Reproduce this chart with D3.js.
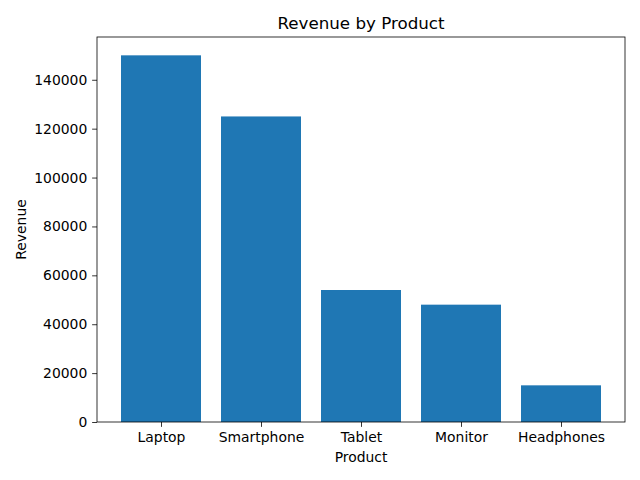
<!DOCTYPE html>
<html><head><meta charset="utf-8">
<script src="https://cdn.jsdelivr.net/npm/d3@7"></script>
<style>body{margin:0;background:#fff}svg{display:block}text{font-family:"DejaVu Sans",sans-serif}</style>
</head><body>
<svg id="c" width="640" height="480"></svg>
<script>
const categories = ["Laptop","Smartphone","Tablet","Monitor","Headphones"];
const revenue = [150000,125000,54000,48000,15000];
const yTicks = [0,20000,40000,60000,80000,100000,120000,140000];

const svg = d3.select("#c");
const L=97, R=625, T=37, B=422;
const x = d3.scaleLinear().domain([-0.64, 4.64]).range([L,R]);
const y = d3.scaleLinear().domain([0, 157500]).range([B,T]);
const g = svg.append("g");

g.selectAll("rect").data(categories).enter().append("rect")
  .attr("x",(d,i)=>x(i-0.4)).attr("width",(d,i)=>x(i+0.4)-x(i-0.4))
  .attr("y",(d,i)=>y(revenue[i])).attr("height",(d,i)=>B-y(revenue[i]))
  .attr("fill","#1f77b4");

const xa = svg.append("g").attr("transform",`translate(0,${B})`)
  .call(d3.axisBottom(x).tickValues(d3.range(categories.length)).tickFormat(i=>categories[i]).tickSize(4.86).tickPadding(4.86).tickSizeOuter(0));
const ya = svg.append("g").attr("transform",`translate(${L},0)`)
  .call(d3.axisLeft(y).tickValues(yTicks).tickFormat(d3.format("d")).tickSize(4.86).tickPadding(4.86).tickSizeOuter(0));
[xa,ya].forEach(a=>{a.select(".domain").remove();a.selectAll("line").attr("stroke","#000").attr("stroke-width",0.8);a.selectAll("text").attr("font-size","13.9px").attr("fill","#000").attr("font-family","DejaVu Sans");});

svg.append("rect").attr("x",L).attr("y",T).attr("width",R-L).attr("height",B-T)
  .attr("fill","none").attr("stroke","#000").attr("stroke-width",0.8);

svg.append("text").attr("x",(L+R)/2).attr("y",29).attr("text-anchor","middle").attr("font-size","16.7px").text("Revenue by Product");
svg.append("text").attr("x",(L+R)/2).attr("y",462).attr("text-anchor","middle").attr("font-size","13.9px").text("Product");
svg.append("text").attr("transform",`translate(26,${(T+B)/2}) rotate(-90)`).attr("text-anchor","middle").attr("font-size","13.9px").text("Revenue");
</script>
</body></html>
